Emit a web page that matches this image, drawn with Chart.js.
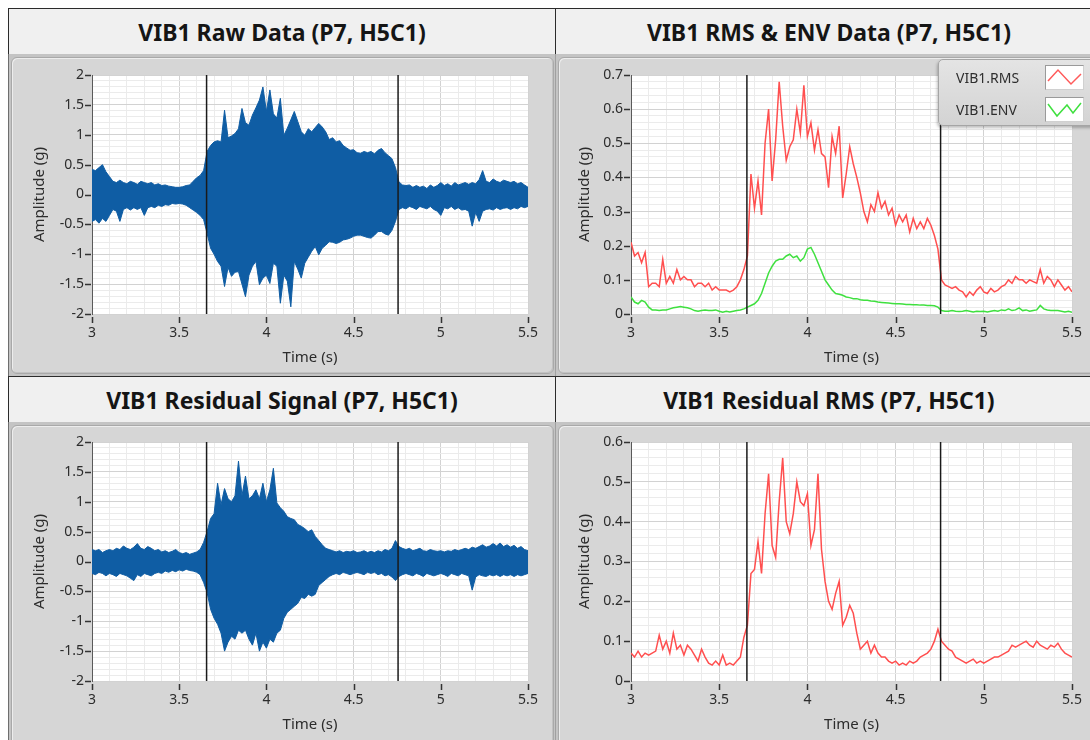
<!DOCTYPE html>
<html>
<head>
<meta charset="utf-8">
<script src="https://cdn.jsdelivr.net/npm/chart.js@4.4.1/dist/chart.umd.min.js"></script>
<style>
  body { margin: 0; width: 1090px; height: 740px; overflow: hidden; background: #fff; position: relative; font-family: "Noto Sans", sans-serif }
  .titulo { position: absolute; box-sizing: border-box; height: 47px; background: #f0f0f0; border: 1.5px solid #2b2b2b;
            display: flex; align-items: center; justify-content: center; font-weight: 700; font-size: 23px; color: #151515 }
  .panel { position: absolute; box-sizing: border-box; background: #c4c4c4; border-left: 1.5px solid #6e6e6e }
  .marco { position: absolute; left: 2px; top: 3px; right: 2px; bottom: 3px; border-radius: 6px; background: #d6d6d6;
           border: 1px solid #a9a9a9; box-shadow: inset 1px 1px 0 #ededed, inset -1px -1px 0 #c2c2c2 }
  canvas { position: absolute }
  #leyenda { position: absolute; left: 938px; top: 59px; width: 170px; height: 67px; box-sizing: border-box;
             border: 1px solid #a5a5a5; border-radius: 5px; background: linear-gradient(#e4e4e4, #d3d3d3);
             box-shadow: -1px 2px 3px rgba(0,0,0,0.25); font-size: 14px; color: #2e2e2e }
  #leyenda span { position: absolute; left: 17px; line-height: 18px }
  #leyenda svg { position: absolute; left: 106px; background: #fff; border: 1px solid #9a9a9a; border-right-color: #d0d0d0; border-bottom-color: #d0d0d0 }
</style>
</head>
<body>

<div class="titulo" style="left:8px; top:8px; width:548px">VIB1 Raw Data (P7, H5C1)</div>
<div class="titulo" style="left:555px; top:8px; width:562px; padding-right:14px">VIB1 RMS &amp; ENV Data (P7, H5C1)</div>
<div class="panel" style="left:8px; top:54px; width:548px; height:323px"><div class="marco"></div></div>
<div class="panel" style="left:555px; top:54px; width:562px; height:323px; border-left-color:#a0a0a0"><div class="marco"></div></div>

<div class="titulo" style="left:8px; top:376px; width:548px">VIB1 Residual Signal (P7, H5C1)</div>
<div class="titulo" style="left:555px; top:376px; width:562px; padding-right:14px">VIB1 Residual RMS (P7, H5C1)</div>
<div class="panel" style="left:8px; top:422px; width:548px; height:330px"><div class="marco"></div></div>
<div class="panel" style="left:555px; top:422px; width:562px; height:330px; border-left-color:#a0a0a0"><div class="marco"></div></div>

<canvas id="raw-chart" width="547" height="322" style="left:8px; top:54px"></canvas>
<canvas id="rms-chart" width="535" height="322" style="left:555px; top:54px"></canvas>
<canvas id="res-chart" width="547" height="318" style="left:8px; top:422px"></canvas>
<canvas id="resrms-chart" width="535" height="318" style="left:555px; top:422px"></canvas>

<div id="leyenda">
  <span style="top:9px">VIB1.RMS</span>
  <svg style="top:5px" width="37" height="23"><polyline points="2,15 12,4 25,18 35,8" fill="none" stroke="#ff5a5a" stroke-width="1.5"/></svg>
  <span style="top:41px">VIB1.ENV</span>
  <svg style="top:37px" width="37" height="23"><polyline points="2,6 11,18 21,7 27,15 35,5" fill="none" stroke="#3fe03f" stroke-width="1.5"/></svg>
</div>

<script>
// samples every 20 ms from 3.00 s to 5.50 s
const T0 = 3
const DT = 0.02
const T_MIN = 3
const T_MAX = 5.5

// cursor lines (s)
const cursorTimes = [3.657, 4.755]

// VIB1 raw signal, peak envelope per sample window (g)
const rawUpper = [
  0.42, 0.40, 0.45, 0.50, 0.38, 0.30, 0.22, 0.20, 0.24, 0.20,
  0.18, 0.22, 0.20, 0.17, 0.22, 0.20, 0.18, 0.20, 0.16, 0.18,
  0.15, 0.16, 0.14, 0.13, 0.12, 0.12, 0.13, 0.15, 0.16, 0.22,
  0.28, 0.32, 0.40, 0.72, 0.82, 0.88, 0.90, 0.88, 1.41, 0.95,
  0.98, 1.02, 1.10, 1.44, 1.20, 1.16, 1.33, 1.45, 1.58, 1.80,
  1.39, 1.75, 1.35, 1.28, 1.61, 0.99, 1.11, 1.25, 1.39, 1.22,
  1.05, 0.99, 1.10, 1.05, 1.12, 1.19, 1.13, 1.05, 0.92, 0.95,
  0.88, 0.90, 0.82, 0.78, 0.74, 0.75, 0.70, 0.69, 0.72, 0.70,
  0.72, 0.68, 0.74, 0.77, 0.70, 0.65, 0.60, 0.45, 0.21, 0.16,
  0.15, 0.16, 0.12, 0.15, 0.12, 0.14, 0.10, 0.16, 0.12, 0.15,
  0.20, 0.15, 0.18, 0.14, 0.20, 0.16, 0.18, 0.20, 0.17, 0.20,
  0.18, 0.25, 0.40, 0.22, 0.20, 0.26, 0.22, 0.20, 0.24, 0.22,
  0.20, 0.22, 0.18, 0.20, 0.16, 0.12
]
const rawLower = [
  -0.45, -0.42, -0.48, -0.40, -0.45, -0.35, -0.25, -0.28, -0.45, -0.25,
  -0.22, -0.26, -0.22, -0.25, -0.22, -0.35, -0.22, -0.20, -0.22, -0.18,
  -0.20, -0.17, -0.18, -0.15, -0.16, -0.15, -0.16, -0.18, -0.22, -0.26,
  -0.30, -0.35, -0.42, -0.65, -0.90, -1.00, -1.12, -1.20, -1.54, -1.22,
  -1.37, -1.30, -1.29, -1.50, -1.71, -1.35, -1.20, -1.12, -1.51, -1.40,
  -1.35, -1.49, -1.15, -1.20, -1.82, -1.35, -1.45, -1.88, -1.12, -1.25,
  -1.40, -1.15, -1.05, -0.95, -0.87, -1.01, -0.90, -0.85, -0.79, -0.80,
  -0.82, -0.80, -0.76, -0.75, -0.73, -0.70, -0.68, -0.68, -0.70, -0.72,
  -0.73, -0.68, -0.62, -0.62, -0.66, -0.68, -0.60, -0.45, -0.25, -0.22,
  -0.24, -0.20, -0.22, -0.25, -0.20, -0.22, -0.24, -0.20, -0.25, -0.28,
  -0.35, -0.22, -0.24, -0.20, -0.25, -0.22, -0.26, -0.25, -0.28, -0.53,
  -0.30, -0.45, -0.28, -0.25, -0.24, -0.26, -0.22, -0.25, -0.23, -0.22,
  -0.25, -0.22, -0.24, -0.20, -0.22, -0.20
]

// VIB1 RMS and envelope (g)
const rmsValues = [
  0.21, 0.17, 0.18, 0.15, 0.18, 0.08, 0.09, 0.09, 0.08, 0.16,
  0.09, 0.11, 0.09, 0.13, 0.10, 0.11, 0.10, 0.10, 0.08, 0.09,
  0.09, 0.08, 0.09, 0.07, 0.08, 0.07, 0.07, 0.07, 0.065, 0.07,
  0.08, 0.10, 0.13, 0.17, 0.41, 0.31, 0.39, 0.29, 0.50, 0.60,
  0.39, 0.51, 0.68, 0.55, 0.45, 0.49, 0.51, 0.60, 0.53, 0.67,
  0.52, 0.56, 0.48, 0.54, 0.47, 0.46, 0.37, 0.52, 0.47, 0.55,
  0.34, 0.41, 0.49, 0.44, 0.40, 0.355, 0.30, 0.27, 0.32, 0.30,
  0.355, 0.31, 0.33, 0.29, 0.31, 0.26, 0.29, 0.27, 0.29, 0.24,
  0.28, 0.25, 0.27, 0.25, 0.28, 0.26, 0.23, 0.19, 0.10, 0.085,
  0.08, 0.075, 0.08, 0.07, 0.065, 0.05, 0.065, 0.055, 0.07, 0.08,
  0.065, 0.06, 0.075, 0.065, 0.07, 0.08, 0.085, 0.10, 0.09, 0.11,
  0.10, 0.10, 0.09, 0.10, 0.095, 0.09, 0.13, 0.09, 0.11, 0.10,
  0.08, 0.10, 0.085, 0.07, 0.08, 0.065
]
const envValues = [
  0.05, 0.035, 0.03, 0.04, 0.035, 0.02, 0.012, 0.012, 0.01, 0.012,
  0.012, 0.015, 0.018, 0.02, 0.022, 0.02, 0.018, 0.015, 0.01, 0.008,
  0.01, 0.012, 0.01, 0.01, 0.012, 0.008, 0.005, 0.008, 0.006, 0.008,
  0.01, 0.012, 0.015, 0.02, 0.025, 0.03, 0.04, 0.06, 0.09, 0.12,
  0.14, 0.155, 0.16, 0.16, 0.17, 0.175, 0.165, 0.17, 0.155, 0.165,
  0.19, 0.195, 0.175, 0.15, 0.125, 0.10, 0.085, 0.07, 0.06, 0.058,
  0.055, 0.05, 0.048, 0.045, 0.045, 0.042, 0.04, 0.04, 0.038, 0.037,
  0.035, 0.034, 0.033, 0.032, 0.031, 0.03, 0.03, 0.029, 0.028, 0.028,
  0.027, 0.027, 0.026, 0.026, 0.025, 0.025, 0.024, 0.02, 0.01, 0.008,
  0.008, 0.01, 0.008, 0.007, 0.008, 0.01, 0.008, 0.006, 0.008, 0.007,
  0.008, 0.006, 0.008, 0.01, 0.008, 0.012, 0.01, 0.015, 0.01, 0.012,
  0.018, 0.01, 0.012, 0.008, 0.01, 0.012, 0.025, 0.015, 0.012, 0.01,
  0.01, 0.01, 0.008, 0.006, 0.008, 0.005
]

// residual signal, peak envelope (g)
const resUpper = [
  0.20, 0.18, 0.20, 0.15, 0.18, 0.20, 0.18, 0.22, 0.20, 0.26,
  0.22, 0.20, 0.24, 0.30, 0.22, 0.20, 0.25, 0.22, 0.18, 0.20,
  0.16, 0.18, 0.15, 0.17, 0.20, 0.15, 0.13, 0.15, 0.12, 0.14,
  0.16, 0.20, 0.32, 0.50, 0.72, 0.80, 1.31, 0.95, 1.22, 1.05,
  1.00, 1.10, 1.68, 1.10, 1.43, 1.05, 1.10, 1.20, 1.05, 1.31,
  1.00, 1.20, 1.56, 0.98, 0.90, 0.84, 0.75, 0.72, 0.70, 0.62,
  0.59, 0.55, 0.50, 0.53, 0.42, 0.35, 0.28, 0.22, 0.20, 0.18,
  0.16, 0.18, 0.15, 0.17, 0.16, 0.18, 0.15, 0.16, 0.18, 0.15,
  0.17, 0.15, 0.18, 0.16, 0.20, 0.18, 0.22, 0.35, 0.25, 0.22,
  0.20, 0.22, 0.18, 0.20, 0.22, 0.18, 0.17, 0.20, 0.18, 0.17,
  0.18, 0.16, 0.18, 0.17, 0.20, 0.18, 0.20, 0.22, 0.20, 0.24,
  0.22, 0.25, 0.28, 0.24, 0.26, 0.30, 0.26, 0.31, 0.25, 0.28,
  0.24, 0.27, 0.22, 0.25, 0.20, 0.18
]
const resLower = [
  -0.20, -0.22, -0.18, -0.20, -0.24, -0.20, -0.22, -0.25, -0.20, -0.22,
  -0.24, -0.28, -0.32, -0.22, -0.25, -0.20, -0.22, -0.24, -0.20, -0.18,
  -0.20, -0.16, -0.18, -0.15, -0.17, -0.14, -0.16, -0.13, -0.15, -0.16,
  -0.18, -0.22, -0.35, -0.52, -0.80, -0.95, -1.05, -1.20, -1.50, -1.35,
  -1.25, -1.30, -1.15, -1.20, -1.15, -1.30, -1.40, -1.20, -1.50, -1.35,
  -1.45, -1.30, -1.35, -1.20, -1.15, -0.95, -0.85, -0.80, -0.75, -0.70,
  -0.60, -0.62, -0.55, -0.58, -0.55, -0.40, -0.35, -0.30, -0.25, -0.22,
  -0.20, -0.22, -0.18, -0.20, -0.22, -0.20, -0.18, -0.20, -0.22, -0.18,
  -0.20, -0.18, -0.22, -0.20, -0.24, -0.22, -0.26, -0.32, -0.25, -0.22,
  -0.20, -0.22, -0.24, -0.20, -0.22, -0.25, -0.20, -0.22, -0.24, -0.22,
  -0.20, -0.22, -0.25, -0.20, -0.22, -0.24, -0.20, -0.22, -0.24, -0.48,
  -0.26, -0.22, -0.24, -0.25, -0.22, -0.24, -0.22, -0.25, -0.22, -0.24,
  -0.22, -0.25, -0.22, -0.24, -0.22, -0.20
]

// residual RMS (g)
const resRmsValues = [
  0.07, 0.06, 0.075, 0.06, 0.07, 0.065, 0.07, 0.075, 0.115, 0.08,
  0.10, 0.07, 0.12, 0.08, 0.09, 0.065, 0.09, 0.08, 0.065, 0.05,
  0.08, 0.06, 0.045, 0.04, 0.05, 0.04, 0.065, 0.04, 0.045, 0.04,
  0.05, 0.06, 0.11, 0.14, 0.27, 0.28, 0.35, 0.27, 0.42, 0.52,
  0.34, 0.31, 0.45, 0.56, 0.40, 0.37, 0.42, 0.50, 0.45, 0.44,
  0.47, 0.34, 0.38, 0.52, 0.33, 0.25, 0.20, 0.18, 0.22, 0.25,
  0.14, 0.16, 0.19, 0.17, 0.12, 0.08, 0.09, 0.10, 0.07, 0.09,
  0.07, 0.06, 0.06, 0.05, 0.045, 0.05, 0.04, 0.045, 0.04, 0.05,
  0.045, 0.05, 0.06, 0.065, 0.07, 0.08, 0.10, 0.13, 0.10, 0.09,
  0.08, 0.075, 0.06, 0.055, 0.05, 0.045, 0.05, 0.055, 0.045, 0.05,
  0.045, 0.05, 0.055, 0.06, 0.06, 0.065, 0.07, 0.075, 0.09, 0.085,
  0.09, 0.095, 0.10, 0.09, 0.085, 0.10, 0.09, 0.085, 0.08, 0.09,
  0.085, 0.095, 0.08, 0.07, 0.065, 0.06
]

const BLUE = '#0f5da4'
const RED = '#ff4f4f'
const GREEN = '#3fe03f'
const CURSOR = '#1a1a1a'
const MAJOR_GRID = '#d2d2d2'
const MINOR_GRID = '#ebebeb'
const TEXT = '#2c2c2c'
const TICK_FONT = { size: 14 }
const TITLE_FONT = { size: 15 }
const X_MAJOR = 0.5

Chart.defaults.font.family = '"Noto Sans", sans-serif'
Chart.defaults.color = TEXT

function isMajor(v, step) {
  let r = v / step
  return Math.abs(r - Math.round(r)) < 1e-6
}

function fmt(v) {
  let s = String(parseFloat(v.toFixed(2)))
  return s === '-0' ? '0' : s
}

function toPoints(vals) {
  return vals.map((v, i) => ({ x: T0 + i * DT, y: v }))
}

function cursorSets(yMin, yMax) {
  return cursorTimes.map(t => ({
    data: [{ x: t, y: yMin }, { x: t, y: yMax }],
    borderColor: CURSOR, borderWidth: 1.5, pointRadius: 0, order: 0
  }))
}

// white plot area behind the grid
const plotBg = {
  id: 'plotBg',
  beforeDraw(chart) {
    let a = chart.chartArea
    let c = chart.ctx
    c.save()
    c.fillStyle = '#ffffff'
    c.fillRect(a.left, a.top, a.right - a.left, a.bottom - a.top)
    c.restore()
  }
}

// short dark marks next to the labelled ticks, detached a little from the x axis
function tickMarks(yMajor) {
  return {
    id: 'tickMarks',
    afterDraw(chart) {
      let c = chart.ctx
      let a = chart.chartArea
      let sx = chart.scales.x
      let sy = chart.scales.y
      c.save()
      c.strokeStyle = '#333333'
      c.lineWidth = 1.5
      c.beginPath()
      for (let t of sx.ticks) {
        if (!isMajor(t.value, X_MAJOR)) continue
        let px = Math.round(sx.getPixelForValue(t.value)) + 0.5
        c.moveTo(px, a.bottom + 3)
        c.lineTo(px, a.bottom + 9)
      }
      for (let t of sy.ticks) {
        if (!isMajor(t.value, yMajor)) continue
        let py = Math.round(sy.getPixelForValue(t.value)) + 0.5
        c.moveTo(a.left - 7, py)
        c.lineTo(a.left - 1, py)
      }
      c.stroke()
      c.restore()
    }
  }
}

function makePanel(id, p) {
  let ctx = document.getElementById(id).getContext('2d')
  return new Chart(ctx, {
    type: 'line',
    data: { datasets: p.datasets.concat(cursorSets(p.yMin, p.yMax)) },
    options: {
      responsive: false,
      animation: false,
      events: [],
      layout: { padding: { top: p.padTop, right: p.padRight, left: 0, bottom: 0 } },
      plugins: { legend: { display: false }, tooltip: { enabled: false } },
      elements: { point: { radius: 0 }, line: { tension: 0 } },
      scales: {
        x: {
          type: 'linear', min: T_MIN, max: T_MAX,
          afterFit: s => { s.height = p.xHeight },
          ticks: { stepSize: 0.1, autoSkip: false, maxRotation: 0, padding: 2, font: TICK_FONT,
                   callback: v => isMajor(v, X_MAJOR) ? fmt(v) : '' },
          grid: {
            color: c => isMajor(c.tick.value, X_MAJOR) ? MAJOR_GRID : MINOR_GRID,
            tickColor: 'rgba(0,0,0,0)', tickLength: 9
          },
          border: { display: false },
          title: { display: true, text: 'Time (s)', font: TITLE_FONT, padding: { top: 0, bottom: p.xTitlePad } }
        },
        y: {
          type: 'linear', min: p.yMin, max: p.yMax,
          afterFit: s => { s.width = p.yWidth },
          ticks: { stepSize: p.yMinor, autoSkip: false, padding: 1, font: TICK_FONT,
                   callback: v => isMajor(v, p.yMajor) ? fmt(v) : '' },
          grid: {
            color: c => isMajor(c.tick.value, p.yMajor) ? MAJOR_GRID : MINOR_GRID,
            tickColor: 'rgba(0,0,0,0)', tickLength: 7
          },
          border: { display: true, color: '#5a5a5a', width: 1 },
          title: { display: true, text: 'Amplitude (g)', font: TITLE_FONT, padding: { top: p.yTitlePad, bottom: 0 } }
        }
      }
    },
    plugins: [plotBg, tickMarks(p.yMajor)]
  })
}

function bandSets(upper, lower) {
  return [
    { data: toPoints(lower), borderColor: BLUE, borderWidth: 1, fill: false, order: 1 },
    { data: toPoints(upper), borderColor: BLUE, borderWidth: 1, fill: '-1', backgroundColor: BLUE, order: 1 }
  ]
}

makePanel('raw-chart', {
  datasets: bandSets(rawUpper, rawLower),
  yMin: -2, yMax: 2, yMajor: 0.5, yMinor: 0.1,
  padTop: 21, padRight: 27, yWidth: 84, xHeight: 62, xTitlePad: 9, yTitlePad: 23
})

makePanel('rms-chart', {
  datasets: [
    { data: toPoints(rmsValues), borderColor: RED, borderWidth: 1.5, fill: false, order: 1 },
    { data: toPoints(envValues), borderColor: GREEN, borderWidth: 1.5, fill: false, order: 1 }
  ],
  yMin: 0, yMax: 0.7, yMajor: 0.1, yMinor: 0.02,
  padTop: 21, padRight: 18, yWidth: 76, xHeight: 62, xTitlePad: 9, yTitlePad: 21
})

makePanel('res-chart', {
  datasets: bandSets(resUpper, resLower),
  yMin: -2, yMax: 2, yMajor: 0.5, yMinor: 0.1,
  padTop: 20, padRight: 27, yWidth: 84, xHeight: 59, xTitlePad: 6, yTitlePad: 23
})

makePanel('resrms-chart', {
  datasets: [
    { data: toPoints(resRmsValues), borderColor: RED, borderWidth: 1.5, fill: false, order: 1 }
  ],
  yMin: 0, yMax: 0.6, yMajor: 0.1, yMinor: 0.02,
  padTop: 20, padRight: 18, yWidth: 76, xHeight: 59, xTitlePad: 6, yTitlePad: 21
})
</script>
</body>
</html>
